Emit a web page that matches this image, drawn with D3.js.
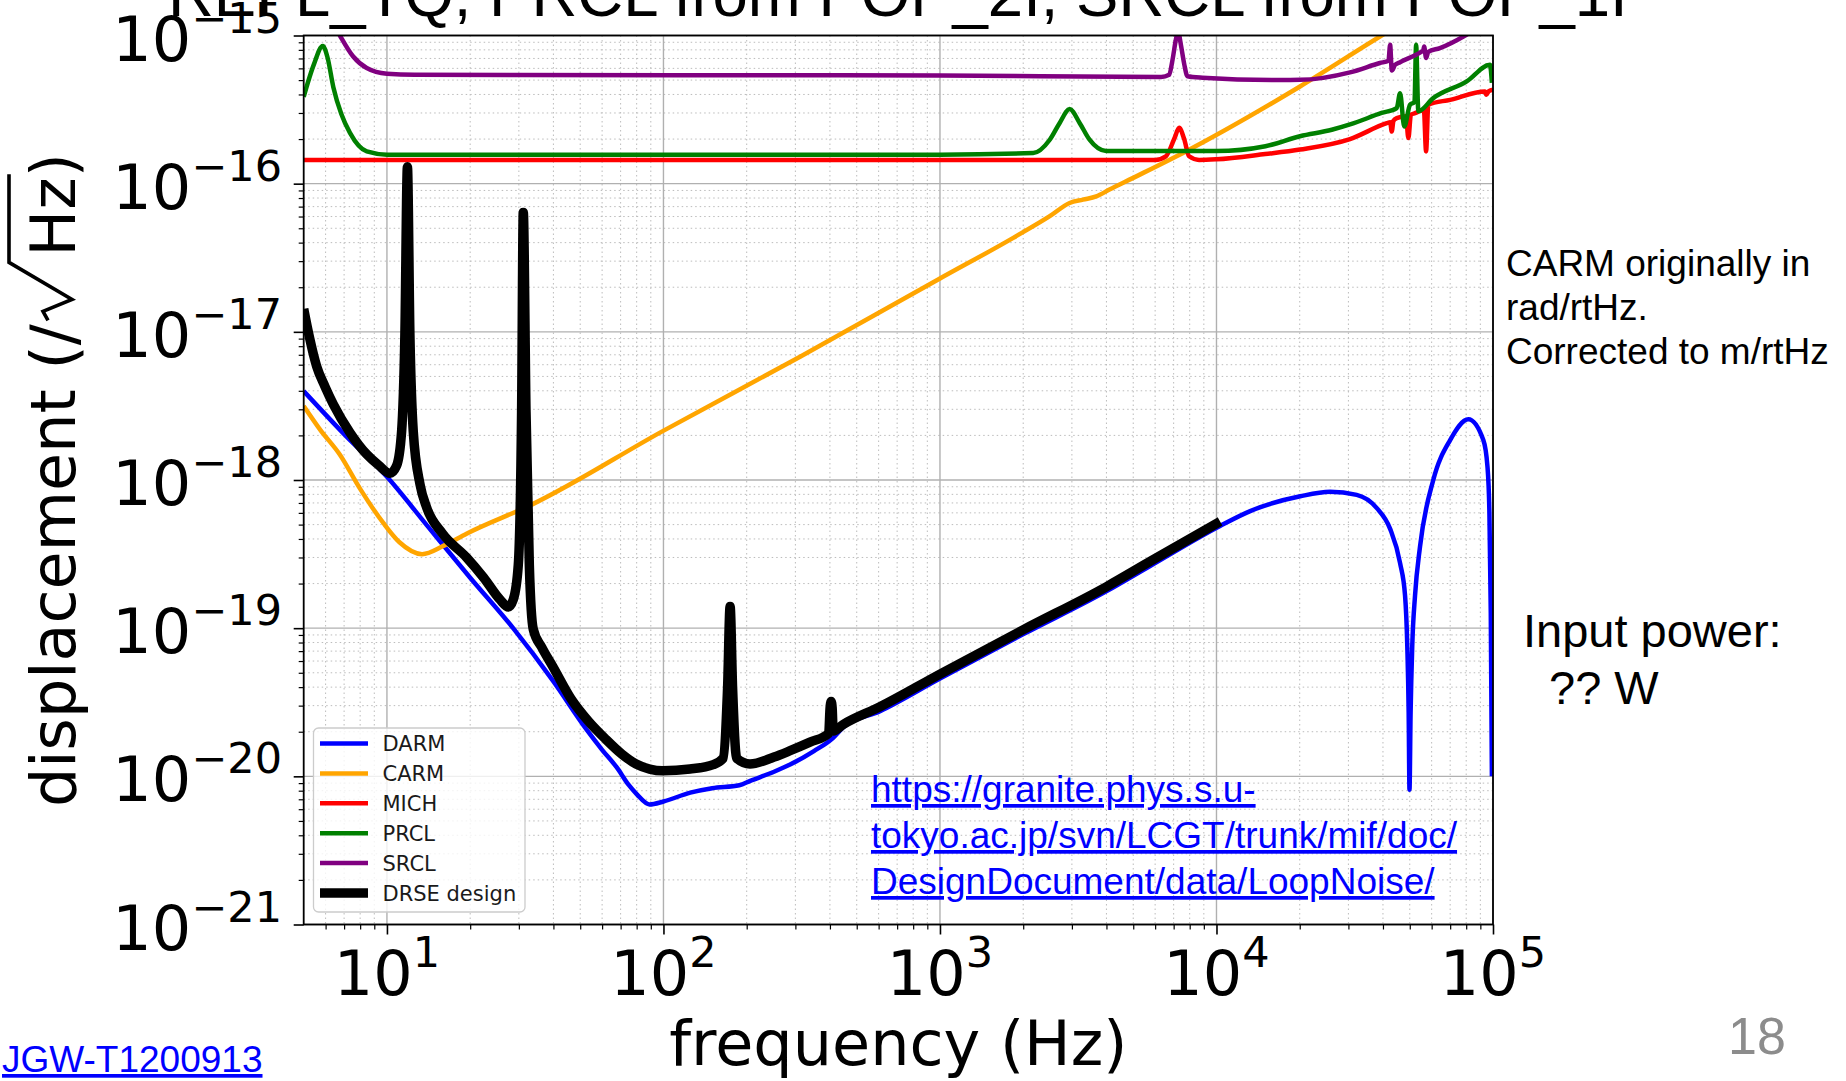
<!DOCTYPE html>
<html>
<head>
<meta charset="utf-8">
<script src="https://cdn.jsdelivr.net/npm/d3@7"></script>
<style>
  html, body { margin: 0; padding: 0; background: #ffffff; }
  svg { display: block; }
</style>
</head>
<body>
<svg id="chart" width="1846" height="1081"></svg>
<script>
// ---------------- data (frequency in Hz, displacement in m/rtHz) ----------------
const seriesNames  = ["DARM", "CARM", "MICH", "PRCL", "SRCL", "DRSE design"];
const seriesColors = ["#0000ff", "#ffa500", "#ff0000", "#008000", "#800080", "#000000"];

const xTickValues    = [10, 100, 1000, 10000, 100000];
const xTickExponents = ["1", "2", "3", "4", "5"];
const yTickValues    = [1e-15, 1e-16, 1e-17, 1e-18, 1e-19, 1e-20, 1e-21];
const yTickExponents = ["\u221215", "\u221216", "\u221217", "\u221218", "\u221219", "\u221220", "\u221221"];

const darm = [
  [5, 3.98e-18], [7, 2.04e-18], [10, 1.05e-18], [14, 4.90e-19], [20, 2.19e-19],
  [28.6, 1.0e-19], [40, 4.37e-20], [52.5, 2.09e-20], [60, 1.51e-20], [67.8, 1.148e-20],
  [75, 8.71e-21], [80, 7.59e-21], [89, 6.46e-21], [100, 6.76e-21], [125, 7.76e-21],
  [150, 8.32e-21], [188, 8.71e-21], [206, 9.33e-21], [250, 1.07e-20], [287, 1.20e-20],
  [350, 1.48e-20], [411, 1.82e-20], [447, 2.14e-20], [607, 2.75e-20], [1000, 4.57e-20],
  [2004, 9.12e-20], [4009, 1.78e-19], [5754, 2.63e-19], [10300, 4.90e-19], [13240, 6.17e-19],
  [20090, 7.76e-19], [25760, 8.32e-19], [32140, 7.94e-19], [38000, 6.46e-19], [42460, 4.68e-19],
  [46130, 2.75e-19], [48080, 1.66e-19], [48980, 7.59e-20], [49550, 2.69e-20], [49890, 8.13e-21],
  [50350, 2.69e-20], [51050, 7.59e-20], [52240, 1.66e-19], [54450, 3.55e-19], [60810, 1.0e-18],
  [69980, 1.86e-18], [81470, 2.57e-18], [92260, 1.86e-18], [95500, 1.23e-18], [97050, 6.03e-19],
  [98170, 1.26e-19], [99080, 1.0e-20]
];

const carm = [
  [5, 3.16e-18], [5.73, 2.19e-18], [6.76, 1.48e-18], [8.0, 8.71e-19], [9.7, 5.13e-19],
  [11.1, 3.80e-19], [13.4, 3.16e-19], [16.0, 3.59e-19], [19.4, 4.34e-19], [33.8, 6.90e-19],
  [99, 2.13e-18], [312, 6.79e-18], [1000, 2.29e-17], [1841, 4.31e-17], [2495, 6.03e-17],
  [2944, 7.41e-17], [3289, 7.80e-17], [3673, 8.20e-17], [4102, 9.12e-17], [4977, 1.09e-16],
  [7745, 1.65e-16], [20050, 4.53e-16], [39000, 9.84e-16], [44700, 1.15e-15]
];

const mich = [
  [5, 1.445e-16], [100, 1.445e-16], [1000, 1.445e-16], [6000, 1.445e-16], [6560, 1.53e-16],
  [7030, 2.0e-16], [7330, 2.38e-16], [7640, 2.0e-16], [7960, 1.53e-16], [8650, 1.445e-16],
  [10000, 1.46e-16], [15000, 1.585e-16], [20050, 1.70e-16], [30400, 2.0e-16], [41300, 2.56e-16],
  [42460, 2.60e-16], [43050, 2.25e-16], [43650, 2.66e-16], [44870, 2.77e-16], [48420, 2.85e-16],
  [49430, 2.03e-16], [50470, 2.92e-16], [52240, 2.99e-16], [56230, 3.16e-16], [57280, 1.65e-16],
  [58340, 3.41e-16], [69980, 3.68e-16], [93540, 4.19e-16], [94620, 3.98e-16], [96610, 4.22e-16],
  [100000, 4.31e-16]
];

const prcl = [
  [5, 3.86e-16], [5.43, 6.31e-16], [5.86, 8.51e-16], [6.10, 7.08e-16], [6.40, 4.48e-16],
  [6.84, 2.95e-16], [7.35, 2.20e-16], [8.45, 1.65e-16], [10, 1.57e-16], [100, 1.57e-16],
  [1000, 1.57e-16], [2173, 1.61e-16], [2495, 1.98e-16], [2710, 2.57e-16], [2944, 3.19e-16],
  [3199, 2.57e-16], [3475, 1.98e-16], [3990, 1.66e-16], [10000, 1.66e-16], [15030, 1.79e-16],
  [20050, 2.09e-16], [26120, 2.31e-16], [30400, 2.51e-16], [39540, 3.0e-16], [44870, 3.24e-16],
  [46130, 4.08e-16], [47750, 2.43e-16], [50120, 3.41e-16], [52000, 3.55e-16], [52720, 8.65e-16],
  [53700, 3.08e-16], [60810, 3.78e-16], [80350, 4.90e-16], [97500, 6.34e-16], [99080, 4.79e-16]
];

const srcl = [
  [5, 3.16e-15], [5.75, 1.78e-15], [6.76, 1.0e-15], [7.55, 7.21e-16], [8.45, 6.03e-16],
  [10, 5.52e-16], [12.6, 5.43e-16], [1000, 5.37e-16], [6310, 5.25e-16], [6745, 5.43e-16],
  [6934, 6.85e-16], [7129, 9.35e-16], [7261, 1.07e-15], [7430, 8.71e-16], [7638, 6.46e-16],
  [7852, 5.31e-16], [8913, 5.19e-16], [15850, 5.01e-16], [20050, 5.02e-16], [30400, 5.64e-16],
  [39000, 6.52e-16], [41880, 6.76e-16], [42460, 8.65e-16], [43050, 5.81e-16], [44260, 6.34e-16],
  [46130, 6.61e-16], [54450, 7.67e-16], [55980, 7.94e-16], [56360, 8.43e-16], [57280, 7.05e-16],
  [58340, 7.76e-16], [64270, 8.22e-16], [78160, 9.84e-16], [89130, 1.15e-15]
];

const drse = [
  [5, 1.43e-17], [5.25, 9.12e-18], [5.57, 5.85e-18], [5.97, 4.27e-18], [6.40, 3.24e-18],
  [7.35, 2.09e-18], [8.45, 1.49e-18], [9.33, 1.26e-18], [10.26, 1.11e-18], [10.84, 1.25e-18],
  [11.30, 2.13e-18], [11.61, 9.42e-18], [11.86, 1.30e-16], [12.11, 9.42e-18], [12.45, 2.13e-18],
  [13.18, 9.29e-19], [13.93, 6.50e-19], [15.85, 4.37e-19], [19.41, 3.0e-19], [22.39, 2.19e-19],
  [25.64, 1.56e-19], [27.48, 1.39e-19], [28.64, 1.56e-19], [29.85, 2.66e-19], [30.69, 2.87e-18],
  [31.12, 6.4e-17], [31.84, 2.87e-18], [32.73, 2.66e-19], [33.81, 9.84e-20], [36.31, 7.41e-20],
  [39.81, 5.50e-20], [46.34, 3.33e-20], [53.70, 2.34e-20], [61.66, 1.79e-20], [70.79, 1.41e-20],
  [79.62, 1.21e-20], [89.13, 1.12e-20], [99.31, 1.09e-20], [124.7, 1.12e-20], [151.4, 1.20e-20],
  [164.1, 1.32e-20], [170.6, 3.98e-20], [174.2, 1.40e-19], [177.8, 3.98e-20], [184.1, 1.32e-20],
  [205.6, 1.21e-20], [251.2, 1.35e-20], [287.1, 1.49e-20], [338.8, 1.70e-20], [396.0, 1.95e-20],
  [400.5, 2.9e-20], [404.0, 3.2e-20], [407.5, 2.9e-20], [411.0, 2.02e-20], [446.7, 2.24e-20],
  [606.7, 2.95e-20], [1000, 4.90e-20], [2004, 9.77e-20], [4009, 1.91e-19], [5754, 2.82e-19],
  [10300, 5.25e-19]
];

const seriesData = [darm, carm, mich, prcl, srcl, drse];

const titleText   = "REFL_TQ, PRCL from POP_2I, SRCL from POP_1I";
const noteLines   = ["CARM originally in", "rad/rtHz.", "Corrected to m/rtHz"];
const powerLines  = ["Input power:", "?? W"];
const urlLines    = ["https://granite.phys.s.u-", "tokyo.ac.jp/svn/LCGT/trunk/mif/doc/", "DesignDocument/data/LoopNoise/"];
const docRef      = "JGW-T1200913";
const pageNumber  = "18";

// ---------------- layout ----------------
const plot = { left: 303.7, right: 1493, top: 35.5, bottom: 924.5 };
const svg = d3.select("#chart");
const MPL = "'DejaVu Sans', sans-serif";
const ARIAL = "'Liberation Sans', Arial, sans-serif";

const x = d3.scaleLog().domain([5, 1e5]).range([plot.left, plot.right]);
const y = d3.scaleLog().domain([1e-21, 1e-15]).range([plot.bottom, plot.top]);

function minorTicks(lo, hi) {
  const out = [];
  for (let e = lo; e < hi; e++) for (let k = 2; k <= 9; k++) out.push(+(k + "e" + e));
  return out;
}
const xMinor = minorTicks(0, 5).filter(v => v > 5 && v < 1e5);
const yMinor = minorTicks(-21, -15);

svg.append("rect").attr("width", 1846).attr("height", 1081).attr("fill", "#ffffff");

svg.append("defs").append("clipPath").attr("id", "plotclip")
  .append("rect").attr("x", plot.left).attr("y", plot.top)
  .attr("width", plot.right - plot.left).attr("height", plot.bottom - plot.top);

// ---------------- grid ----------------
const grid = svg.append("g");
grid.selectAll(".gxm").data(xMinor).join("line")
  .attr("x1", d => x(d)).attr("x2", d => x(d)).attr("y1", plot.top).attr("y2", plot.bottom)
  .attr("stroke", "#bcbcbc").attr("stroke-width", 1).attr("stroke-dasharray", "1.5,3");
grid.selectAll(".gym").data(yMinor).join("line")
  .attr("y1", d => y(d)).attr("y2", d => y(d)).attr("x1", plot.left).attr("x2", plot.right)
  .attr("stroke", "#bcbcbc").attr("stroke-width", 1).attr("stroke-dasharray", "1.5,3");
grid.selectAll(".gxM").data(xTickValues).join("line")
  .attr("x1", d => x(d)).attr("x2", d => x(d)).attr("y1", plot.top).attr("y2", plot.bottom)
  .attr("stroke", "#b0b0b0").attr("stroke-width", 1.4);
grid.selectAll(".gyM").data(yTickValues).join("line")
  .attr("y1", d => y(d)).attr("y2", d => y(d)).attr("x1", plot.left).attr("x2", plot.right)
  .attr("stroke", "#b0b0b0").attr("stroke-width", 1.4);

// ---------------- curves ----------------
const lineGen = d3.line().x(d => x(d[0])).y(d => y(d[1])).curve(d3.curveMonotoneX);
const lineWidths = [4.5, 4.5, 4.5, 4.5, 4.5, 9.5];
const curves = svg.append("g").attr("clip-path", "url(#plotclip)");
seriesData.forEach((s, i) => {
  curves.append("path").attr("d", lineGen(s)).attr("fill", "none")
    .attr("stroke", seriesColors[i]).attr("stroke-width", lineWidths[i])
    .attr("stroke-linejoin", "round").attr("stroke-linecap", "butt");
});

// ---------------- axes ----------------
function styleAxis(g, w) {
  g.select(".domain").remove();
  g.selectAll(".tick line").attr("stroke", "#000").attr("stroke-width", w);
  g.selectAll(".tick text").remove();
}
svg.append("g").attr("transform", `translate(0,${plot.bottom})`)
  .call(d3.axisBottom(x).tickValues(xTickValues).tickSize(10).tickSizeOuter(0).tickFormat(""))
  .call(g => styleAxis(g, 1.6));
svg.append("g").attr("transform", `translate(0,${plot.bottom})`)
  .call(d3.axisBottom(x).tickValues(xMinor).tickSize(5).tickSizeOuter(0).tickFormat(""))
  .call(g => styleAxis(g, 1.2));
svg.append("g").attr("transform", `translate(${plot.left},0)`)
  .call(d3.axisLeft(y).tickValues(yTickValues).tickSize(10).tickSizeOuter(0).tickFormat(""))
  .call(g => styleAxis(g, 1.6));
svg.append("g").attr("transform", `translate(${plot.left},0)`)
  .call(d3.axisLeft(y).tickValues(yMinor).tickSize(5).tickSizeOuter(0).tickFormat(""))
  .call(g => styleAxis(g, 1.2));

svg.append("rect").attr("x", plot.left).attr("y", plot.top)
  .attr("width", plot.right - plot.left).attr("height", plot.bottom - plot.top)
  .attr("fill", "none").attr("stroke", "#000").attr("stroke-width", 1.8);

// tick labels with superscripts
function powLabel(px, py, anchor, exp) {
  const t = svg.append("text").attr("x", px).attr("y", py).attr("text-anchor", anchor)
    .style("font-family", MPL).style("font-size", "62px").attr("fill", "#000");
  t.append("tspan").text("10");
  t.append("tspan").attr("dy", -28).style("font-size", "43px").text(exp);
}
xTickValues.forEach((v, i) => powLabel(x(v), 995, "middle", xTickExponents[i]));
yTickValues.forEach((v, i) => powLabel(282, y(v) + 25, "end", yTickExponents[i]));

// axis titles
svg.append("text").attr("x", (plot.left + plot.right) / 2).attr("y", 1065)
  .attr("text-anchor", "middle").style("font-family", MPL).style("font-size", "62px")
  .attr("fill", "#000").text("frequency (Hz)");

const yl = svg.append("g").attr("transform", `translate(75,${(plot.top + plot.bottom) / 2}) rotate(-90)`);
const ylt = yl.append("text").attr("x", 0).attr("y", 0).attr("text-anchor", "middle")
  .style("font-family", MPL).style("font-size", "62px").attr("fill", "#000");
ylt.append("tspan").text("displacement (/");
ylt.append("tspan").attr("dx", 68).text("Hz");
ylt.append("tspan").text(")");
{
  const node = ylt.node();
  const full = node.textContent;
  const iSlash = full.indexOf("/");
  const iZ = full.indexOf("z");
  const eS = node.getExtentOfChar(iSlash);
  const eZ = node.getExtentOfChar(iZ);
  const s = eS.x + eS.width;
  const zEnd = eZ.x + eZ.width;
  yl.append("path")
    .attr("d", `M${s + 4},-27 L${s + 13},-32 L${s + 25},-3 L${s + 62},-66 L${zEnd + 3},-66`)
    .attr("fill", "none").attr("stroke", "#000").attr("stroke-width", 3.6)
    .attr("stroke-linejoin", "miter");
}

// ---------------- legend ----------------
const lg = svg.append("g");
lg.append("rect").attr("x", 313.5).attr("y", 728).attr("width", 211.5).attr("height", 184)
  .attr("rx", 5).attr("fill", "#ffffff").attr("fill-opacity", 0.8)
  .attr("stroke", "#cccccc").attr("stroke-width", 1.3);
seriesNames.forEach((name, i) => {
  const cy = 743.5 + i * 29.9;
  lg.append("line").attr("x1", 320).attr("x2", 368).attr("y1", cy).attr("y2", cy)
    .attr("stroke", seriesColors[i]).attr("stroke-width", lineWidths[i]);
  lg.append("text").attr("x", 382.5).attr("y", cy + 7.5)
    .style("font-family", MPL).style("font-size", "21px").attr("fill", "#1a1a1a").text(name);
});

// ---------------- slide texts ----------------
svg.append("text").attr("x", 168).attr("y", 16)
  .style("font-family", ARIAL).style("font-size", "63.5px").attr("fill", "#000").text(titleText);

noteLines.forEach((s, i) => {
  svg.append("text").attr("x", 1506).attr("y", 276 + i * 44)
    .style("font-family", ARIAL).style("font-size", "37px").attr("fill", "#000").text(s);
});
svg.append("text").attr("x", 1523).attr("y", 647)
  .style("font-family", ARIAL).style("font-size", "47px").attr("fill", "#000").text(powerLines[0]);
svg.append("text").attr("x", 1549).attr("y", 704)
  .style("font-family", ARIAL).style("font-size", "47px").attr("fill", "#000").text(powerLines[1]);

urlLines.forEach((s, i) => {
  svg.append("text").attr("x", 871).attr("y", 802 + i * 46)
    .style("font-family", ARIAL).style("font-size", "37px").style("text-decoration", "underline")
    .attr("fill", "#0000ff").text(s);
});
svg.append("text").attr("x", 2).attr("y", 1072)
  .style("font-family", ARIAL).style("font-size", "37px").style("text-decoration", "underline")
  .attr("fill", "#0000ff").text(docRef);
svg.append("text").attr("x", 1728).attr("y", 1054)
  .style("font-family", ARIAL).style("font-size", "52px").attr("fill", "#8c8c8c").text(pageNumber);
</script>
</body>
</html>
